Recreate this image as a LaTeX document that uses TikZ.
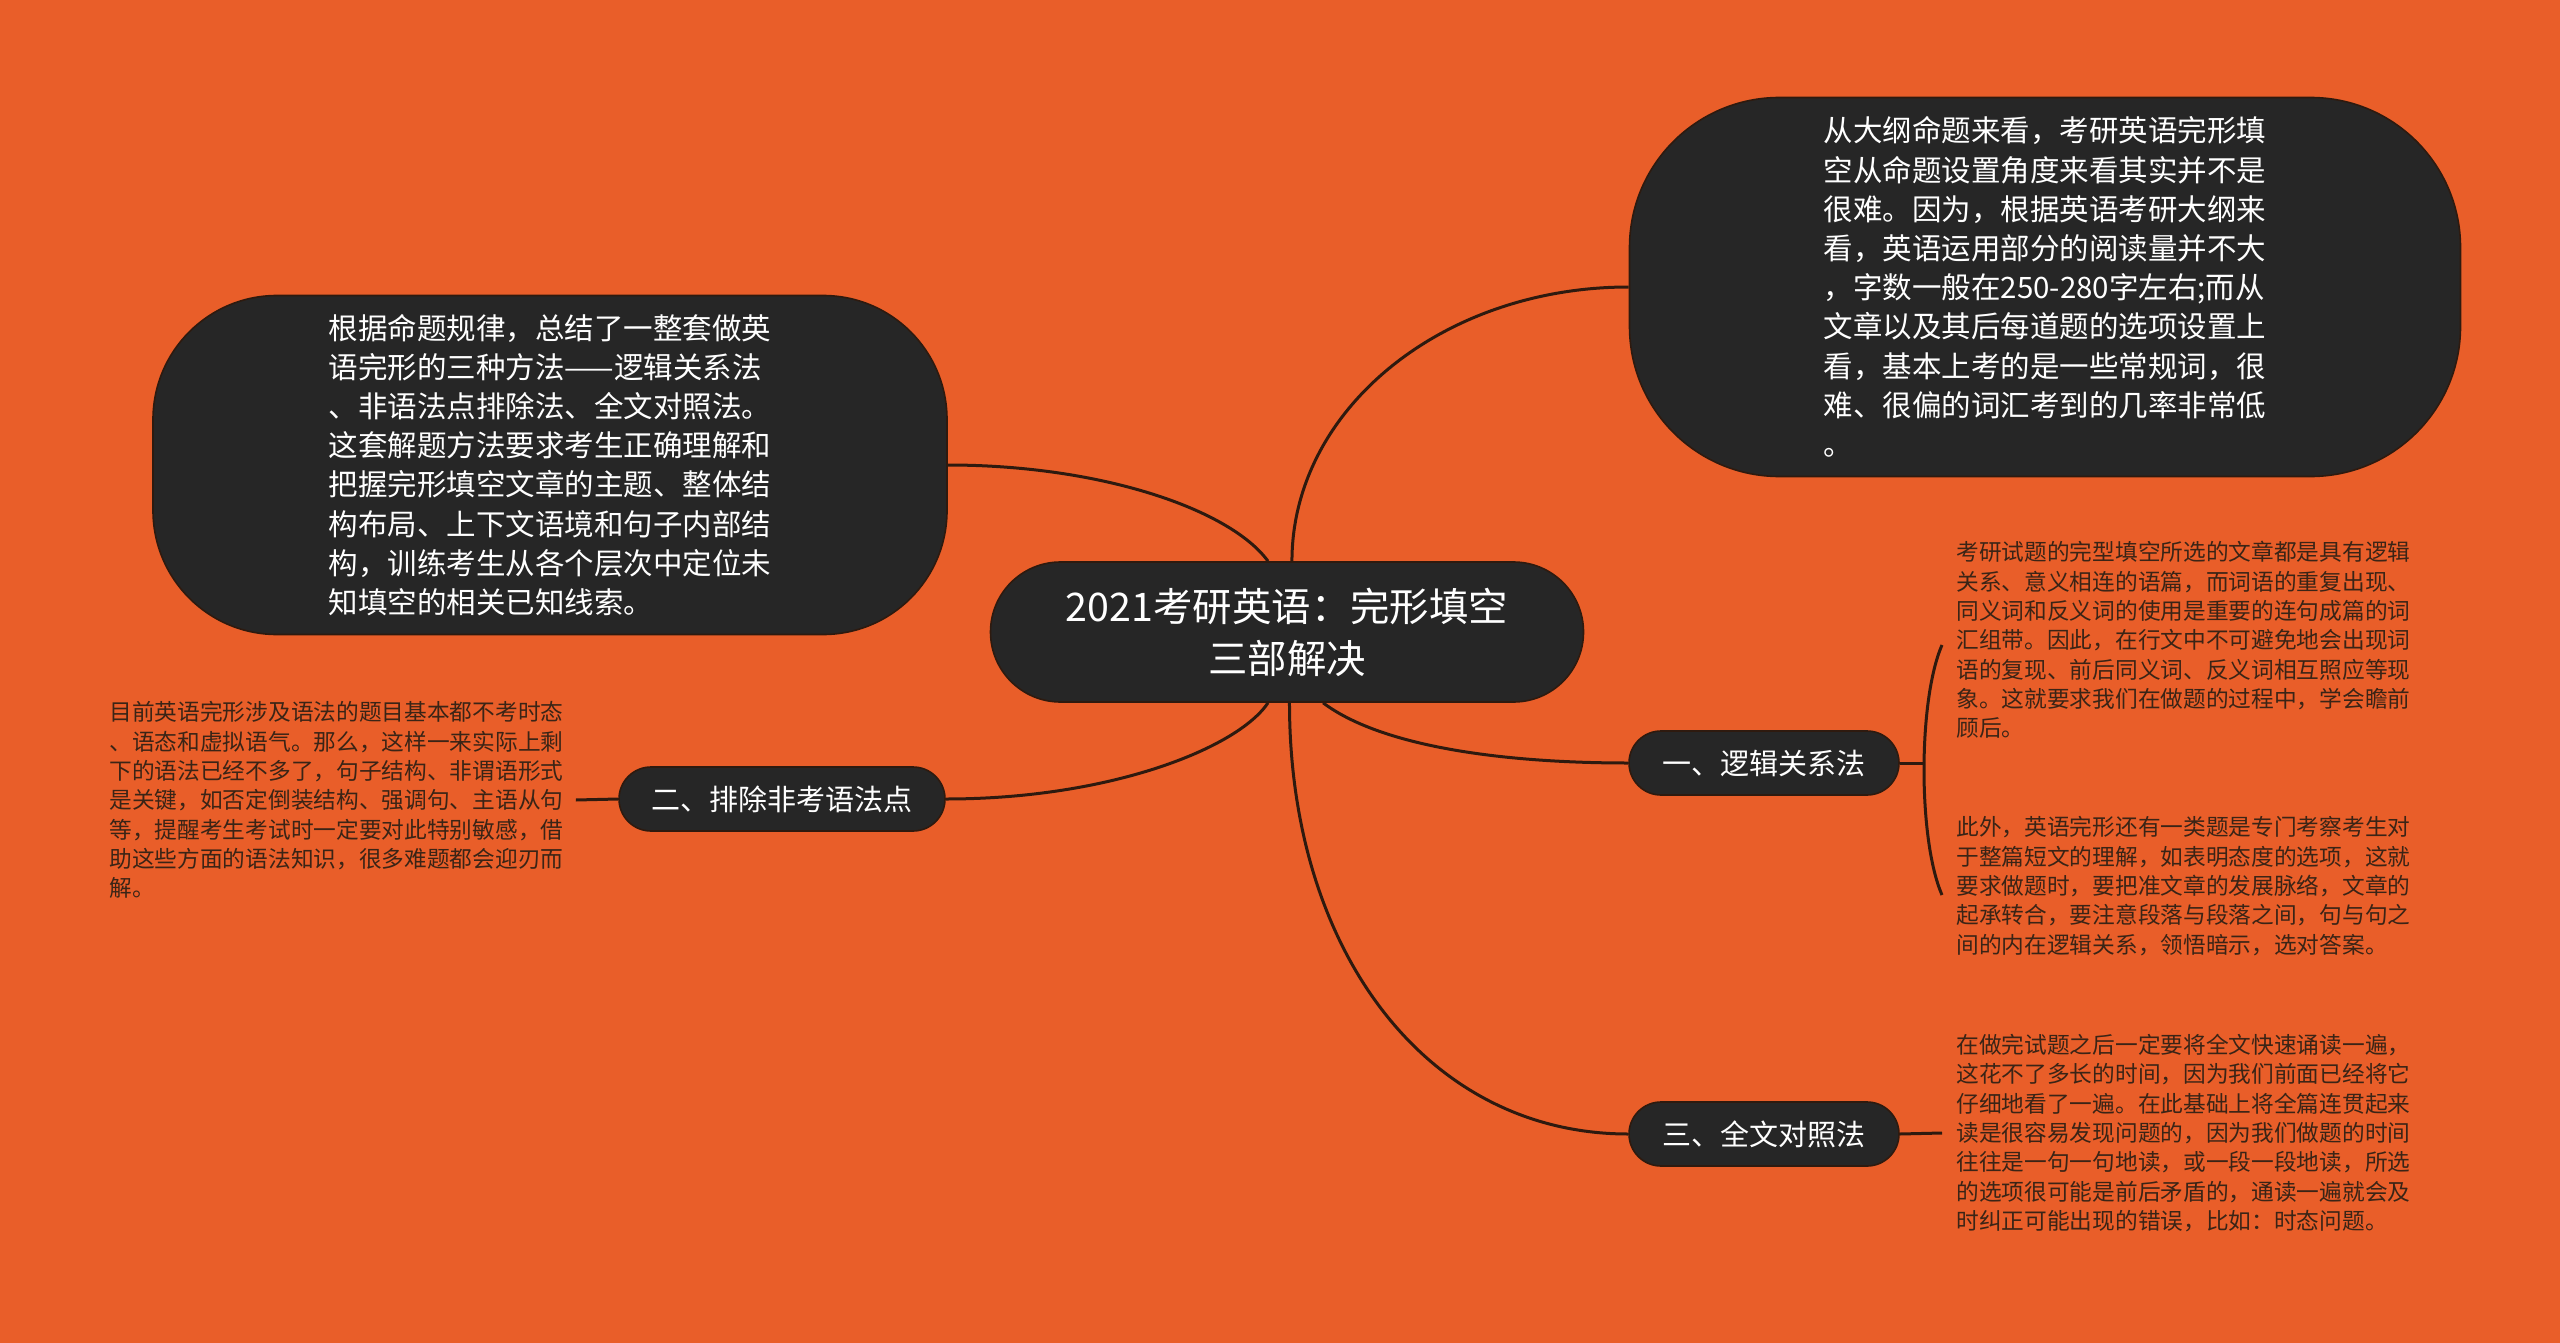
\documentclass[tikz,border=0pt]{standalone}
\usepackage{fontspec}
\setmainfont{Noto Sans CJK SC}
\usetikzlibrary{positioning,calc}
\definecolor{bgorange}{HTML}{E95E29}
\definecolor{bubble}{HTML}{262626}
\definecolor{wire}{HTML}{2E1A0F}
\definecolor{leaftext}{HTML}{3A2416}

\begin{document}
\begin{tikzpicture}[x=0.5pt, y=-0.5pt,
		every node/.style={inner sep=0pt},
		bubblebox/.style={draw=wire, line width=0.8pt, fill=bubble,
			text=white, rectangle, align=left},
		rootbox/.style={bubblebox, align=center, minimum width=296.5pt,
			minimum height=70pt, rounded corners=35pt,
			font=\fontsize{19.7}{26}\selectfont},
		bigbox/.style={bubblebox, font=\fontsize{14.75}{19.6}\selectfont},
		branchbox/.style={bubblebox, minimum height=32pt, rounded corners=16pt,
			font=\fontsize{14.5}{17}\selectfont},
		leaf/.style={text=leaftext, align=left,
			font=\fontsize{11.35}{14.65}\selectfont},
		link/.style={draw=wire, line width=1.5pt}]
		\useasboundingbox (0,0) rectangle (2560,1343);
		\fill [bgorange] (0,0) rectangle (2560,1343);
		%% Centre
		\node [rootbox] at (1287,632) (root) {2021考研英语：完形填空\\三部解决};
		%% Big bubbles
		\node [bigbox, minimum width=397pt, minimum height=169.5pt, rounded corners=62pt] at (550,465) (tl)
			{根据命题规律，总结了一整套做英\\语完形的三种方法——逻辑关系法\\、非语法点排除法、全文对照法。\\这套解题方法要求考生正确理解和\\把握完形填空文章的主题、整体结\\构布局、上下文语境和句子内部结\\构，训练考生从各个层次中定位未\\知填空的相关已知线索。};
		\node [bigbox, minimum width=415.5pt, minimum height=189.5pt, rounded corners=75pt] at (2045,287) (tr)
			{从大纲命题来看，考研英语完形填\\空从命题设置角度来看其实并不是\\很难。因为，根据英语考研大纲来\\看，英语运用部分的阅读量并不大\\，字数一般在250-280字左右;而从\\文章以及其后每道题的选项设置上\\看，基本上考的是一些常规词，很\\难、很偏的词汇考到的几率非常低\\。};
		%% Branches
		\node [branchbox, minimum width=135pt] at (1764,763) (b1) {一、逻辑关系法};
		\node [branchbox, minimum width=163pt] at (782,799) (b2) {二、排除非考语法点};
		\node [branchbox, minimum width=135pt] at (1764,1134) (b3) {三、全文对照法};
		%% Leaves
		\node [leaf, anchor=west] at (1956,640) (l1)
			{考研试题的完型填空所选的文章都是具有逻辑\\关系、意义相连的语篇，而词语的重复出现、\\同义词和反义词的使用是重要的连句成篇的词\\汇组带。因此，在行文中不可避免地会出现词\\语的复现、前后同义词、反义词相互照应等现\\象。这就要求我们在做题的过程中，学会瞻前\\顾后。};
		\node [leaf, anchor=west] at (1956,886) (l2)
			{此外，英语完形还有一类题是专门考察考生对\\于整篇短文的理解，如表明态度的选项，这就\\要求做题时，要把准文章的发展脉络，文章的\\起承转合，要注意段落与段落之间，句与句之\\间的内在逻辑关系，领悟暗示，选对答案。};
		\node [leaf, anchor=west] at (1956,1133) (l3)
			{在做完试题之后一定要将全文快速诵读一遍，\\这花不了多长的时间，因为我们前面已经将它\\仔细地看了一遍。在此基础上将全篇连贯起来\\读是很容易发现问题的，因为我们做题的时间\\往往是一句一句地读，或一段一段地读，所选\\的选项很可能是前后矛盾的，通读一遍就会及\\时纠正可能出现的错误，比如：时态问题。};
		\node [leaf, anchor=west] at (109,800) (l4)
			{目前英语完形涉及语法的题目基本都不考时态\\、语态和虚拟语气。那么，这样一来实际上剩\\下的语法已经不多了，句子结构、非谓语形式\\是关键，如否定倒装结构、强调句、主语从句\\等，提醒考生考试时一定要对此特别敏感，借\\助这些方面的语法知识，很多难题都会迎刃而\\解。};
		%% Flows
		\path [link] (root.105) .. controls +(-38,-52) and +(153,0) .. (tl.east);
		\path [link] (root.86) .. controls +(0,-152) and +(-186,0) .. (tr.west);
		\path [link] (root.-63) .. controls +(57,43) and +(-129,0) .. (b1.west);
		\path [link] (root.-105) .. controls +(-30,45) and +(165,0) .. (b2.east);
		\path [link] (root.-88) .. controls +(0,250) and +(-200,0) .. (b3.west);
		%% Brackets
		\coordinate (br1) at (1942,645);
		\coordinate (br2) at (1942,895);
		\coordinate (brm) at (1923,763);
		\path [link] (br1) .. controls (1918,700) and (1918,840) .. (br2);
		\path [link] (b1.east) -- (brm);
		\path [link] (b3.east) -- ([xshift=-7pt]l3.west);
		\path [link] (b2.west) -- ([xshift=6pt]l4.east);
	\end{tikzpicture}
\end{document}
